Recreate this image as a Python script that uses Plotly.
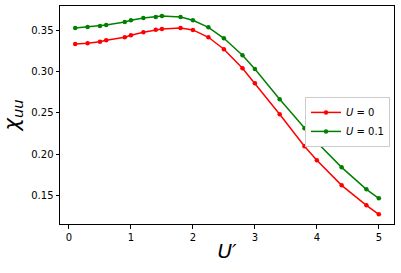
import plotly.graph_objects as go

u_prime = [0.1, 0.3, 0.5, 0.6, 0.9, 1.0, 1.2, 1.4, 1.5, 1.8, 2.0, 2.25, 2.5, 2.8, 3.0, 3.4, 3.8, 4.0, 4.4, 4.8, 5.0]
chi_u0 = [0.3334, 0.3342, 0.3362, 0.3379, 0.3415, 0.3439, 0.3476, 0.3507, 0.3516, 0.3528,
          0.3504, 0.3415, 0.3270, 0.3040, 0.2858, 0.2482, 0.2094, 0.1924, 0.1621, 0.1379, 0.1270]
chi_u01 = [0.3528, 0.3540, 0.3552, 0.3564, 0.3600, 0.3621, 0.3649, 0.3661, 0.3673, 0.3661,
           0.3621, 0.3536, 0.3403, 0.3197, 0.3031, 0.2664, 0.2312, 0.2142, 0.1839, 0.1573, 0.1464]
series_names = ["<i>U</i> = 0", "<i>U</i> = 0.1"]
x_ticks = [0, 1, 2, 3, 4, 5]
y_ticks = [0.15, 0.20, 0.25, 0.30, 0.35]
y_tick_labels = ["0.15", "0.20", "0.25", "0.30", "0.35"]

fig = go.Figure()
for ys, name, color in [(chi_u0, series_names[0], "#ff0000"), (chi_u01, series_names[1], "#008000")]:
    fig.add_trace(go.Scatter(x=u_prime, y=ys, name=name, mode="lines+markers",
                             line=dict(color=color, width=1.5),
                             marker=dict(color=color, size=4.5)))

axis_common = dict(showline=True, mirror=True, linecolor="black", linewidth=1,
                   ticks="outside", ticklen=3.5, tickwidth=1, tickcolor="black",
                   showgrid=False, zeroline=False, automargin=False,
                   tickfont=dict(family="DejaVu Sans", size=10, color="black"))

fig.update_layout(
    width=401, height=273,
    margin=dict(l=60, r=7, t=6, b=49, autoexpand=False),
    paper_bgcolor="white", plot_bgcolor="white",
    xaxis=dict(range=[-0.145, 5.245], tickvals=x_ticks,
               title=dict(text="<i>U′</i>", font=dict(family="DejaVu Sans", size=20, color="black"), standoff=2),
               **axis_common),
    yaxis=dict(range=[0.1153, 0.3794], tickvals=y_ticks, ticktext=y_tick_labels,
               title=dict(text="<i>χ</i><sub><i>uu</i></sub>", font=dict(family="DejaVu Sans", size=21, color="black"), standoff=6),
               **axis_common),
    legend=dict(x=0.988, y=0.583, xanchor="right", yanchor="top",
                bordercolor="#cccccc", borderwidth=1, bgcolor="white",
                font=dict(family="DejaVu Sans", size=10, color="black"),
                tracegroupgap=0, itemwidth=30),
    showlegend=True,
)

fig.write_html("out.html", config={"displayModeBar": False},
               post_script="document.body.style.margin='0';document.body.style.overflow='hidden';")
